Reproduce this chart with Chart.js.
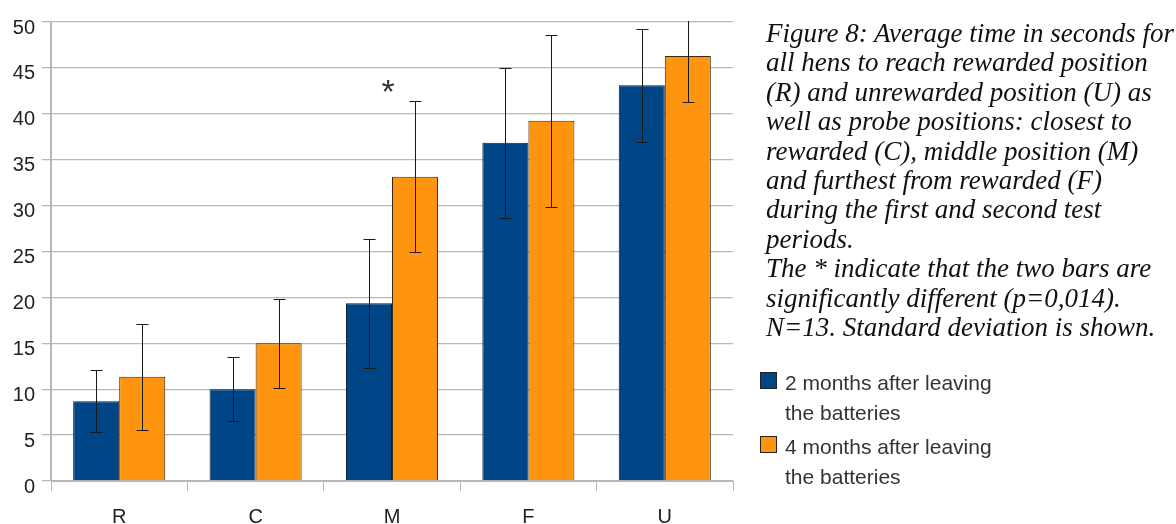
<!DOCTYPE html>
<html>
<head>
<meta charset="utf-8">
<script src="https://cdn.jsdelivr.net/npm/chart.js@4"></script>
<style>
  html, body { margin:0; padding:0; background:#fff; }
  #wrap { position:relative; width:1176px; height:524px; overflow:hidden; }
  #c { position:absolute; left:0; top:0; }
  #caption { position:absolute; left:766px; top:19px; width:420px;
    font-family:'Liberation Serif', 'Times New Roman', serif; font-style:italic;
    font-size:27px; line-height:29.4px; color:#111; white-space:nowrap; }
  #legend { position:absolute; left:760px; top:368px; font-family:'Liberation Sans', Arial, sans-serif;
    font-size:21px; line-height:30px; color:#333; white-space:nowrap; }
  .item { position:relative; padding-left:25px; margin-bottom:4px; }
  .sw { position:absolute; left:0; top:4px; width:15px; height:15px; border:1px solid #222; }
</style>
</head>
<body>
<div id="wrap">
  <canvas id="c" width="1176" height="524"></canvas>
  <div id="caption"></div>
  <div id="legend"></div>
</div>
<script>
const categories = ['R', 'C', 'M', 'F', 'U'];
const seriesLabels = ['2 months after leaving the batteries', '4 months after leaving the batteries'];
const legendLines = [['2 months after leaving', 'the batteries'], ['4 months after leaving', 'the batteries']];
const twoMonths = [8.7, 10.0, 19.35, 36.85, 43.1];
const twoMonthsSD = [3.4, 3.5, 7.05, 8.15, 6.15];
const fourMonths = [11.35, 15.0, 33.15, 39.25, 46.3];
const fourMonthsSD = [5.8, 4.85, 8.25, 9.35, 5.0];
const yTicks = [0, 5, 10, 15, 20, 25, 30, 35, 40, 45, 50];
const significantIndex = 2;
const significantValue = 43;
const captionLines = [
  'Figure 8: Average time in seconds for',
  'all hens to reach rewarded position',
  '(R) and unrewarded position (U) as',
  'well as probe positions: closest to',
  'rewarded (C), middle position (M)',
  'and furthest from rewarded (F)',
  'during the first and second test',
  'periods.',
  'The * indicate that the two bars are',
  'significantly different (p=0,014).',
  'N=13. Standard deviation is shown.'
];
const colors = ['#004586', '#ff950e'];

document.getElementById('caption').innerHTML = captionLines.map(l => '<div>' + l + '</div>').join('');
document.getElementById('legend').innerHTML = legendLines.map((ls, i) =>
  '<div class="item"><span class="sw" style="background:' + colors[i] + '"></span>' +
  ls.map(t => '<div>' + t + '</div>').join('') + '</div>').join('');

const sds = [twoMonthsSD, fourMonthsSD];

const errorBars = {
  id: 'errorBars',
  afterDatasetsDraw(chart) {
    const ctx = chart.ctx, y = chart.scales.y, a = chart.chartArea;
    ctx.save();
    ctx.beginPath();
    ctx.rect(a.left, a.top - 1, a.right - a.left, a.bottom - a.top + 1);
    ctx.clip();
    ctx.strokeStyle = '#1a1a1a';
    ctx.lineWidth = 1;
    chart.data.datasets.forEach((ds, di) => {
      const meta = chart.getDatasetMeta(di);
      meta.data.forEach((bar, i) => {
        const v = ds.data[i], sd = sds[di][i];
        const x = Math.round(bar.x) + 0.5;
        const yt = Math.round(y.getPixelForValue(v + sd)) + 0.5;
        const yb = Math.round(y.getPixelForValue(v - sd)) + 0.5;
        ctx.beginPath();
        ctx.moveTo(x, yt); ctx.lineTo(x, yb);
        ctx.moveTo(x - 6, yt); ctx.lineTo(x + 6, yt);
        ctx.moveTo(x - 6, yb); ctx.lineTo(x + 6, yb);
        ctx.stroke();
      });
    });
    ctx.restore();
    // significance marker
    const xs = chart.scales.x;
    ctx.save();
    ctx.fillStyle = '#333';
    ctx.font = '34px "Liberation Sans", Arial, sans-serif';
    ctx.textAlign = 'center';
    ctx.textBaseline = 'middle';
    ctx.fillText('*', xs.getPixelForValue(significantIndex) - 4, y.getPixelForValue(significantValue) + 7);
    ctx.restore();
  }
};

Chart.defaults.font.family = '"Liberation Sans", Arial, sans-serif';
new Chart(document.getElementById('c'), {
  type: 'bar',
  data: {
    labels: categories,
    datasets: [
      { label: seriesLabels[0], data: twoMonths, backgroundColor: colors[0], borderColor: '#0d1a2a', borderWidth: 1 },
      { label: seriesLabels[1], data: fourMonths, backgroundColor: colors[1], borderColor: '#3a2a10', borderWidth: 1 }
    ]
  },
  options: {
    responsive: false,
    animation: false,
    layout: { padding: { left: 0, right: 443, top: 22, bottom: 0 } },
    plugins: { legend: { display: false }, tooltip: { enabled: false } },
    datasets: { bar: { categoryPercentage: 0.675, barPercentage: 1 } },
    scales: {
      x: {
        grid: { display: true, drawOnChartArea: false, drawTicks: true, tickLength: 10, color: '#b8b8b8', offset: true },
        border: { display: true, color: '#b8b8b8', width: 1 },
        ticks: { color: '#222', font: { size: 20 }, padding: 14 },
        afterFit(s) { s.height = 43; }
      },
      y: {
        min: 0, max: 50,
        afterBuildTicks(s) { s.ticks = yTicks.map(v => ({ value: v })); },
        grid: { color: '#b8b8b8', lineWidth: 1.3, tickLength: 9 },
        border: { display: true, color: '#b8b8b8', width: 2 },
        ticks: { color: '#222', font: { size: 20 }, padding: 7, labelOffset: 6 },
        afterFit(s) { s.width = 51; }
      }
    }
  },
  plugins: [errorBars]
});
</script>
</body>
</html>
